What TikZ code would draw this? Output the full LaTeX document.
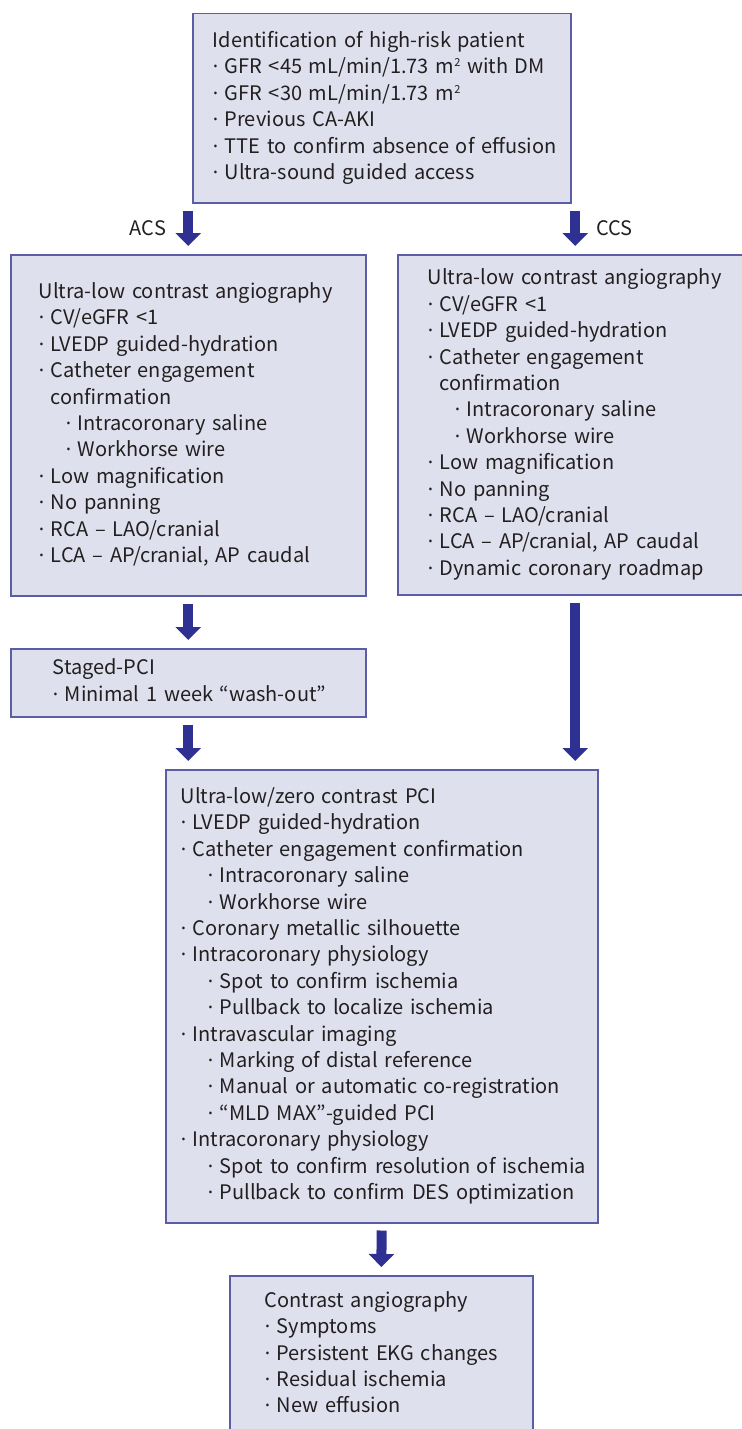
\documentclass[tikz,border=0pt]{standalone}
\usepackage{fontspec}
\setmainfont{Noto Sans CJK KR}
\newfontfamily\dotfont{Noto Sans}
\usetikzlibrary{arrows.meta}
\definecolor{boxfill}{HTML}{DFE0EE}
\definecolor{boxline}{HTML}{5B5EA6}
\definecolor{arrblue}{HTML}{2E3192}
\definecolor{txtgray}{HTML}{231F20}
\newcommand{\bul}{{\dotfont ·}\ }
\newcommand{\subind}{\hspace*{13.5pt}}
\newcommand{\hang}{\phantom{\bul}}
\newcommand{\sqr}{\raisebox{3.6pt}{\fontsize{5.5pt}{5.5pt}\selectfont 2}}
\newcommand{\boxlines}[1]{\begin{tabular}{@{}l@{}}#1\end{tabular}}

\begin{document}
\begin{tikzpicture}[x=0.5pt, y=-0.5pt,
	every node/.style={font=\fontsize{10pt}{13.2pt}\selectfont, text=txtgray},
	box/.style={draw=boxline, line width=0.75pt, fill=boxfill, anchor=north west, align=left, inner ysep=0pt},
	bigarr/.style={arrblue, line width=5pt, -{Triangle[width=12.5pt,length=6.5pt]}, shorten <=3.5pt, shorten >=4pt}]
	\useasboundingbox (0,0) rectangle (742,1429);
	\clip (0,0) rectangle (742,1429);
	% boxes
	\node[box, minimum width=189pt, minimum height=94.5pt, text width=169pt, inner xsep=10pt] (top) at (192,13) {\boxlines{Identification of high-risk patient\\ \bul GFR <45 mL/min/1.73 m\sqr{} with DM\\ \bul GFR <30 mL/min/1.73 m\sqr\\ \bul Previous CA-AKI\\ \bul TTE to confirm absence of effusion\\ \bul Ultra-sound guided access}};
	\node[box, minimum width=177.5pt, minimum height=170.5pt, text width=149.5pt, inner xsep=14pt] (left) at (10,254) {\boxlines{Ultra-low contrast angiography\\ \bul CV/eGFR <1\\ \bul LVEDP guided-hydration\\ \bul Catheter engagement\\ \hang confirmation\\ \subind\bul Intracoronary saline\\ \subind\bul Workhorse wire\\ \bul Low magnification\\ \bul No panning\\ \bul RCA – LAO/cranial\\ \bul LCA – AP/cranial, AP caudal}};
	\node[box, minimum width=177.5pt, minimum height=170pt, text width=147.5pt, inner xsep=15pt] (right) at (397,254) {\boxlines{Ultra-low contrast angiography\\ \bul CV/eGFR <1\\ \bul LVEDP guided-hydration\\ \bul Catheter engagement\\ \hang confirmation\\ \subind\bul Intracoronary saline\\ \subind\bul Workhorse wire\\ \bul Low magnification\\ \bul No panning\\ \bul RCA – LAO/cranial\\ \bul LCA – AP/cranial, AP caudal\\ \bul Dynamic coronary roadmap}};
	\node[box, minimum width=177.5pt, minimum height=34pt, text width=135.5pt, inner xsep=21pt] (staged) at (10,648) {\boxlines{Staged-PCI\\ \bul Minimal 1 week “wash-out”}};
	\node[box, minimum width=216pt, minimum height=226.5pt, text width=201pt, inner xsep=7.5pt] (pci) at (165,769) {\boxlines{Ultra-low/zero contrast PCI\\ \bul LVEDP guided-hydration\\ \bul Catheter engagement confirmation\\ \subind\bul Intracoronary saline\\ \subind\bul Workhorse wire\\ \bul Coronary metallic silhouette\\ \bul Intracoronary physiology\\ \subind\bul Spot to confirm ischemia\\ \subind\bul Pullback to localize ischemia\\ \bul Intravascular imaging\\ \subind\bul Marking of distal reference\\ \subind\bul Manual or automatic co-registration\\ \subind\bul “MLD MAX”-guided PCI\\ \bul Intracoronary physiology\\ \subind\bul Spot to confirm resolution of ischemia\\ \subind\bul Pullback to confirm DES optimization}};
	\node[box, minimum width=151.5pt, minimum height=79pt, text width=116.5pt, inner xsep=17.5pt] (bottom) at (229,1275) {\boxlines{Contrast angiography\\ \bul Symptoms\\ \bul Persistent EKG changes\\ \bul Residual ischemia\\ \bul New effusion}};
	% labels
	\node[anchor=east] (acs) at (173,228) {ACS};
	\node[anchor=west] (ccs) at (589,228) {CCS};
	% arrows
	\draw[bigarr] (top.south -| left.north) -- (left.north);
	\draw[bigarr] (top.south -| right.north) -- (right.north);
	\draw[bigarr] (left.south) -- (staged.north);
	\draw[bigarr] (staged.south) -- (staged.south |- pci.north);
	\draw[bigarr] (right.south) -- (right.south |- pci.north);
	\draw[bigarr] (pci.south) -- (bottom.north);
\end{tikzpicture}
\end{document}
